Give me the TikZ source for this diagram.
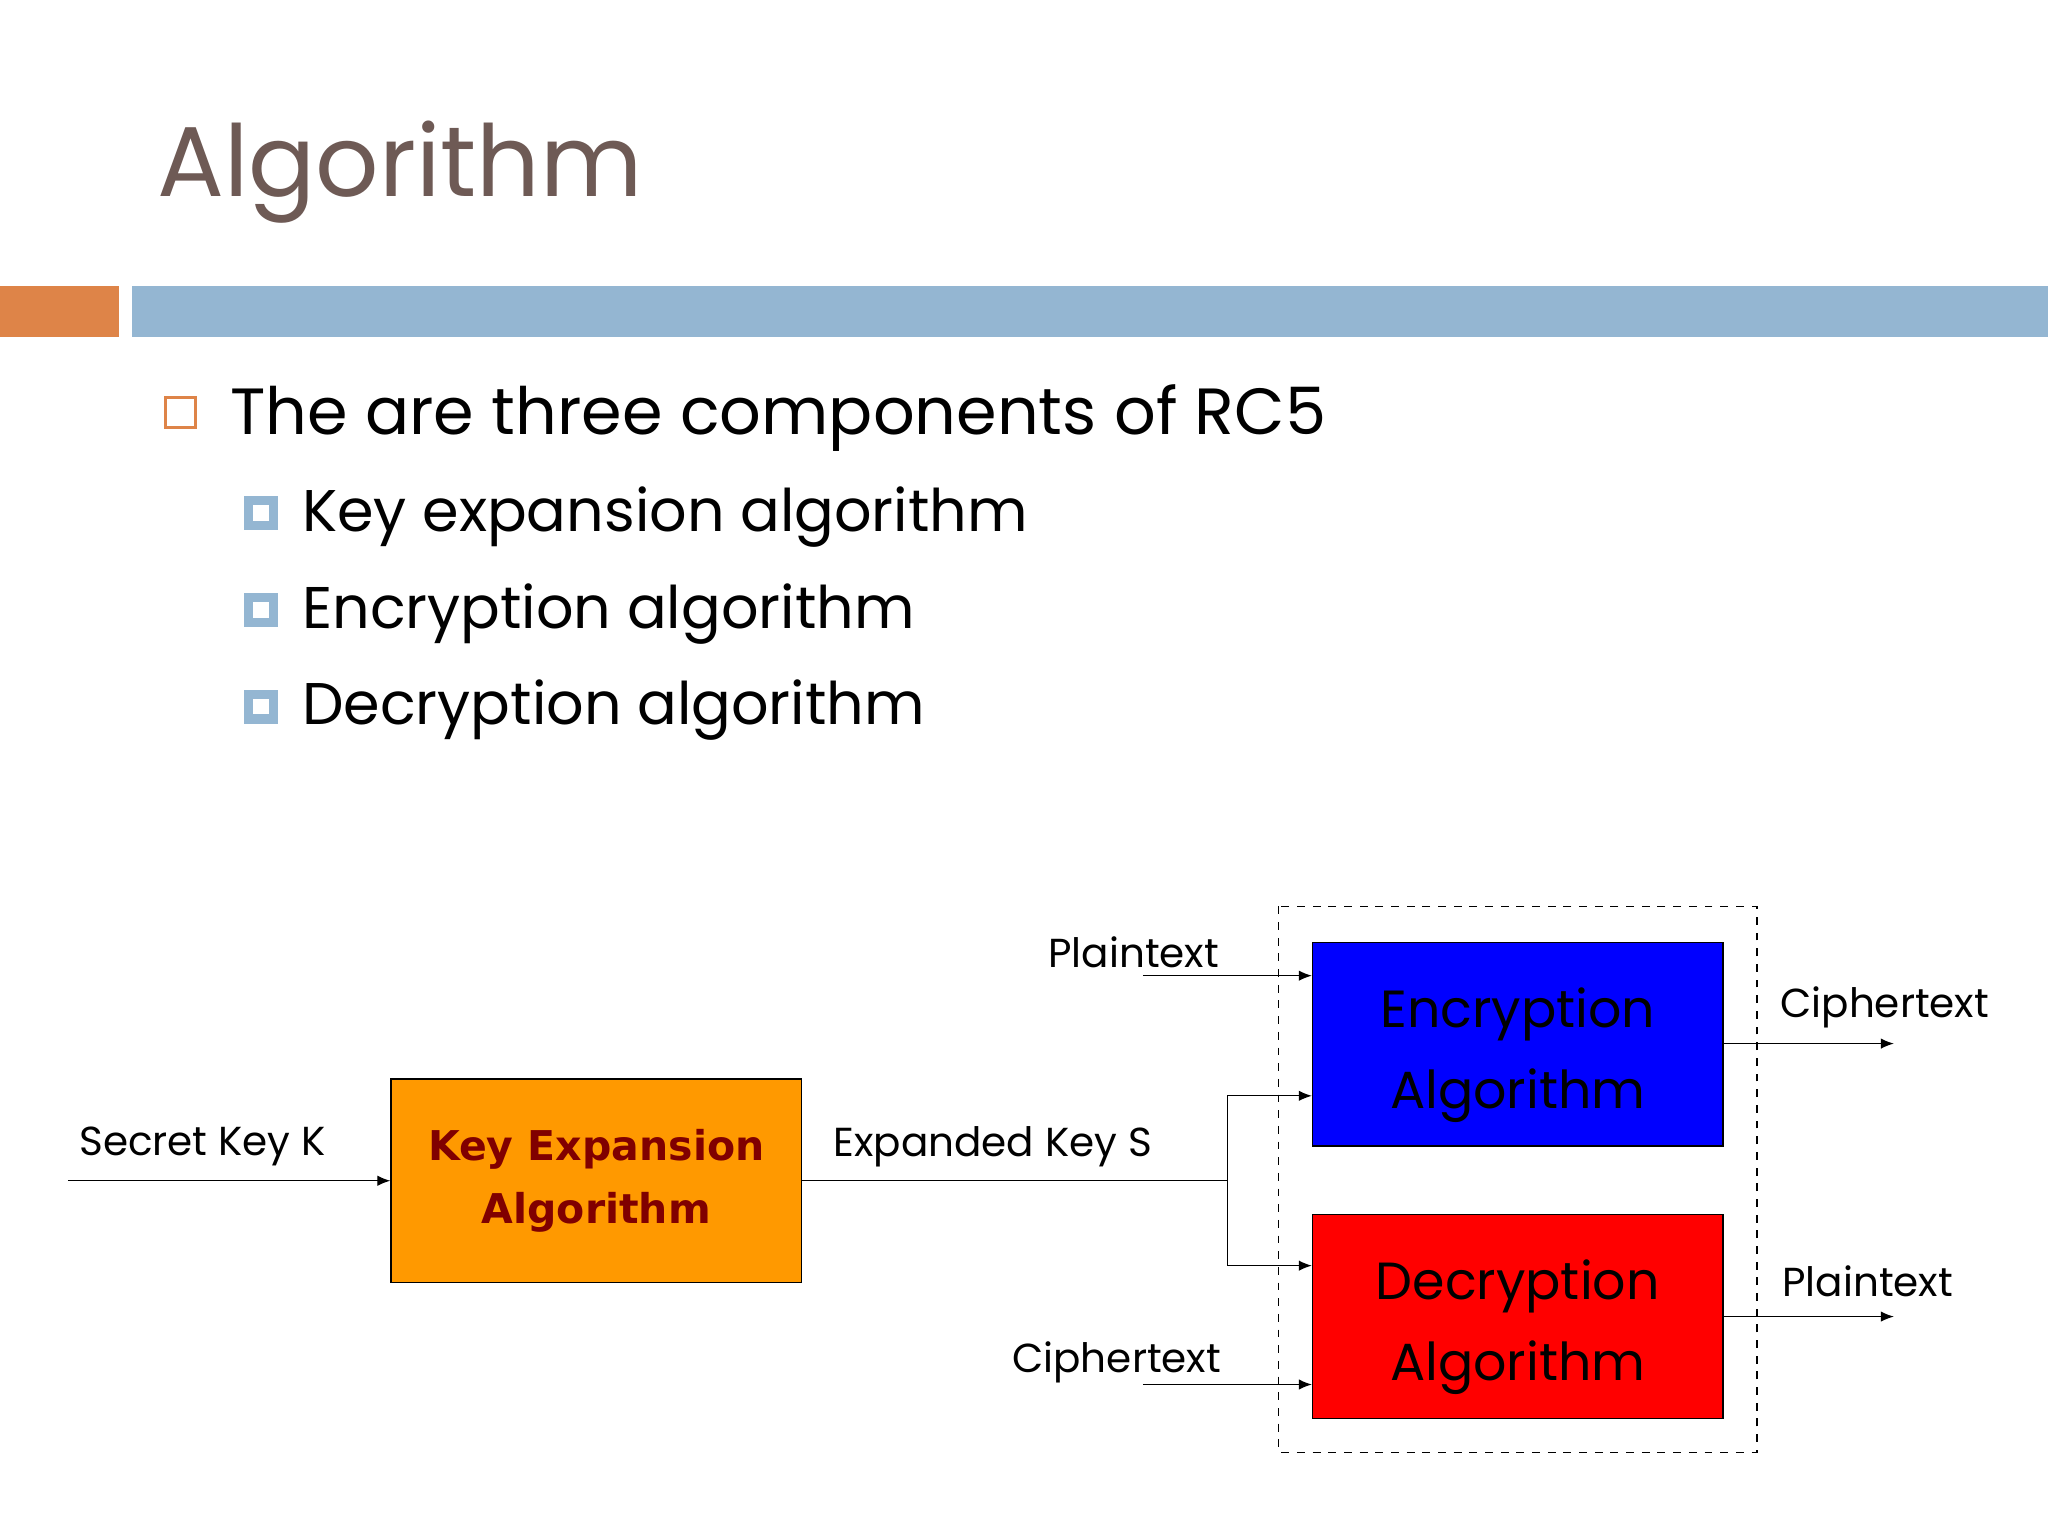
\documentclass[tikz,border=0pt]{standalone}
\usepackage{fontspec}
\setmainfont{Poppins}
\newfontfamily\boxfont{DejaVu Sans}
\usetikzlibrary{arrows.meta}
\definecolor{titlec}{HTML}{6E5A55}
\definecolor{orbar}{HTML}{DE8448}
\definecolor{blbar}{HTML}{94B6D2}
\definecolor{keyfill}{HTML}{FF9900}
\definecolor{keytxt}{HTML}{800000}
\begin{document}
\begin{tikzpicture}[x=0.5pt,y=-0.5pt,
  arr/.style={-{Latex[length=5pt,width=4pt]},line width=0.5pt},
  ln/.style={line width=0.5pt},
  lbl/.style={font=\fontsize{15.5}{17}\selectfont,inner sep=0pt},
  blk/.style={draw=black,line width=0.6pt,minimum width=157pt,minimum height=78pt,align=center,inner sep=0pt},
  btxt/.style={align=center,inner sep=0pt,font=\fontsize{20}{31}\selectfont},
  sub/.style={anchor=west,font=\fontsize{22.5}{26}\selectfont,inner sep=0pt},
  sbul/.style={fill=blbar,minimum size=13pt,inner sep=0pt}]
\useasboundingbox (0,0) rectangle (1568,1176);
\fill[white] (0,0) rectangle (1568,1176);
\node[anchor=west,inner sep=0pt,text=titlec,font=\fontsize{38}{44}\selectfont] (title) at (120,132) {Algorithm};
\fill[orbar] (0,219) rectangle (91,258);
\fill[blbar] (101,219) rectangle (1568,258);
\node[draw=orbar,line width=1pt,minimum size=11.5pt,inner sep=0pt] (b0) at (138,316) {};
\node[anchor=west,inner sep=0pt,font=\fontsize{25}{30}\selectfont] (t0) at (176,320) {The are three components of RC5};
\foreach \y/\t [count=\i] in {394/Key expansion algorithm,468/Encryption algorithm,542/Decryption algorithm}{
  \node[sbul] (sb\i) at (200,\y-1) {};
  \fill[white] (194,\y-7) rectangle (206,\y+5);
  \node[sub] (st\i) at (231,\y+2) {\t};
}
\node[blk,fill=keyfill,text=keytxt,font=\boxfont\bfseries\fontsize{15.7}{24}\selectfont] (key) at (456.5,904) {Key Expansion\\Algorithm};
\node[blk,fill=blue] (enc) at (1162,799.5) {};
\node[btxt] (enct) at (1162,808) {Encryption\\Algorithm};
\node[blk,fill=red] (dec) at (1162,1008) {};
\node[btxt] (dect) at (1162,1016) {Decryption\\Algorithm};
\draw[dashed,line width=0.6pt] (979,694) rectangle (1345,1112);
\coordinate (sk) at (52,904);
\coordinate (split) at (940,904);
\coordinate (pin) at (875,747);
\coordinate (cin) at (875,1060);
\coordinate (cout) at (1450,799);
\coordinate (pout) at (1450,1008);
\draw[arr] (sk) -- (key.west);
\node[lbl] (lk) at (155,878) {Secret Key K};
\draw[ln] (key.east) -- (split);
\node[lbl] (le) at (760,878) {Expanded Key S};
\draw[arr] (split) |- (enc.west |- 0,839);
\draw[arr] (split) |- (dec.west |- 0,969);
\draw[arr] (pin) -- (enc.west |- pin);
\node[lbl] (lp) at (868,729) {Plaintext};
\draw[arr] (cin) -- (dec.west |- cin);
\node[lbl] (lc) at (855,1043) {Ciphertext};
\draw[arr] (enc.east |- cout) -- (cout);
\node[lbl] (lc2) at (1443,771) {Ciphertext};
\draw[arr] (dec.east |- pout) -- (pout);
\node[lbl] (lp2) at (1430,981) {Plaintext};
\end{tikzpicture}
\end{document}
